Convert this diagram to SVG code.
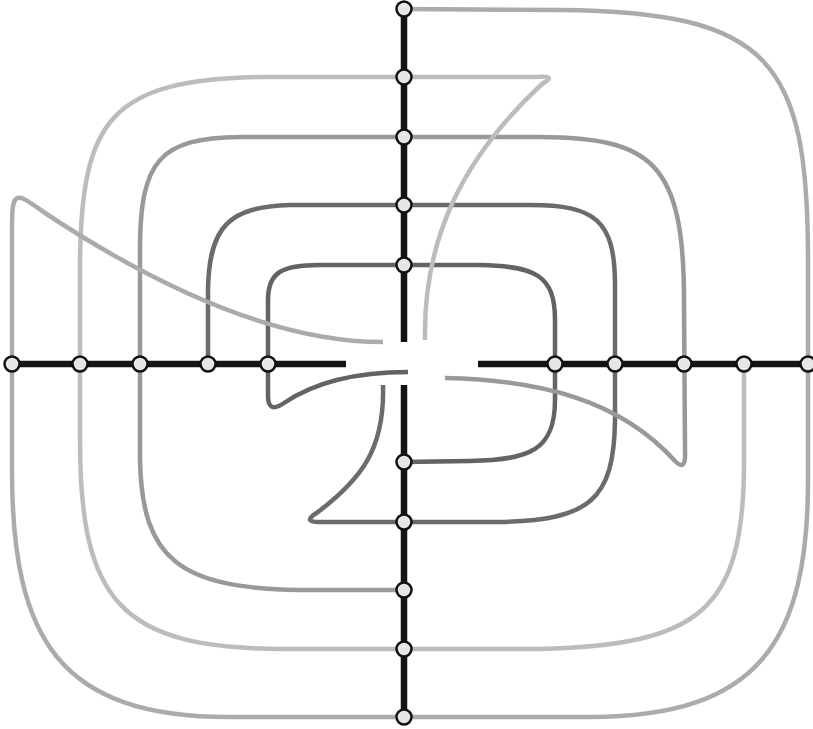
<svg xmlns="http://www.w3.org/2000/svg" width="813" height="729" viewBox="0 0 813 729">
<style>
.axis{stroke:#141414;stroke-width:6.5;fill:none;stroke-linecap:butt}
.c{fill:none;stroke-width:4.5;stroke-linecap:butt;stroke-linejoin:round}
.a{stroke:#636363}
.b{stroke:#6b6b6b}
.cc{stroke:#999999}
.d{stroke:#bcbcbc}
.e{stroke:#ababab}
.n{fill:#e6e6e6;stroke:#111;stroke-width:2.5}
</style>
<rect width="813" height="729" fill="#ffffff"/>
<g id="connectors">
<line class="axis" x1="404" y1="9" x2="404" y2="342"/>
<line class="axis" x1="404" y1="385" x2="404" y2="717"/>
<line class="axis" x1="12" y1="364" x2="346" y2="364"/>
<line class="axis" x1="478" y1="364" x2="810" y2="364"/>
<path id="curveA" class="c a" d="M408,372 C350,372 312,384 284,403 Q268,414 268,396 L268,300 C268,272 282,265 320,265 L480,265 C535,266 555,275 555,320 L555,400 C555,450 530,460 470,461 L404,462"/>
<path id="curveB" class="c b" d="M383,385 C385,450 360,480 318,512 Q300,523 322,522 L500,522 C590,520 614,500 615,420 L615,285 C615,220 595,205 530,205 L290,205 C230,207 209,225 208,290 L208,364"/>
<path id="curveC" class="c cc" d="M445,378 C540,380 620,400 675,461 Q686,472 685,452 L684,300 C684,160 650,138 540,137 L240,137 C160,138 140,160 140,250 L140,460 C142,560 180,588 300,590 L404,590"/>
<path id="curveD" class="c d" d="M425,340 C423,240 462,158 542,84 Q558,75 536,77 L260,77 C110,80 82,120 80,260 L80,440 C80,600 120,648 280,649 L540,649 C700,645 742,610 744,470 L744,364"/>
<path id="curveE" class="c e" d="M383,342 C270,342 150,282 48,215 C30,203 20,193 15,200 C12,205 12,215 12,235 L12,470 C12,640 60,717 230,717 L590,717 C760,717 808,640 808,480 L808,260 C808,60 770,12 560,10 L404,9"/>
</g>
<g id="n-top0"><circle class="n" cx="404" cy="9" r="7.5"/></g>
<g id="n-top1"><circle class="n" cx="404" cy="77" r="7.5"/></g>
<g id="n-top2"><circle class="n" cx="404" cy="137" r="7.5"/></g>
<g id="n-top3"><circle class="n" cx="404" cy="205" r="7.5"/></g>
<g id="n-top4"><circle class="n" cx="404" cy="265" r="7.5"/></g>
<g id="n-bot0"><circle class="n" cx="404" cy="462" r="7.5"/></g>
<g id="n-bot1"><circle class="n" cx="404" cy="522" r="7.5"/></g>
<g id="n-bot2"><circle class="n" cx="404" cy="590" r="7.5"/></g>
<g id="n-bot3"><circle class="n" cx="404" cy="649" r="7.5"/></g>
<g id="n-bot4"><circle class="n" cx="404" cy="717" r="7.5"/></g>
<g id="n-left0"><circle class="n" cx="12" cy="364" r="7.5"/></g>
<g id="n-left1"><circle class="n" cx="80" cy="364" r="7.5"/></g>
<g id="n-left2"><circle class="n" cx="140" cy="364" r="7.5"/></g>
<g id="n-left3"><circle class="n" cx="208" cy="364" r="7.5"/></g>
<g id="n-left4"><circle class="n" cx="268" cy="364" r="7.5"/></g>
<g id="n-right0"><circle class="n" cx="555" cy="364" r="7.5"/></g>
<g id="n-right1"><circle class="n" cx="615" cy="364" r="7.5"/></g>
<g id="n-right2"><circle class="n" cx="684" cy="364" r="7.5"/></g>
<g id="n-right3"><circle class="n" cx="744" cy="364" r="7.5"/></g>
<g id="n-right4"><circle class="n" cx="808" cy="364" r="7.5"/></g>
</svg>
